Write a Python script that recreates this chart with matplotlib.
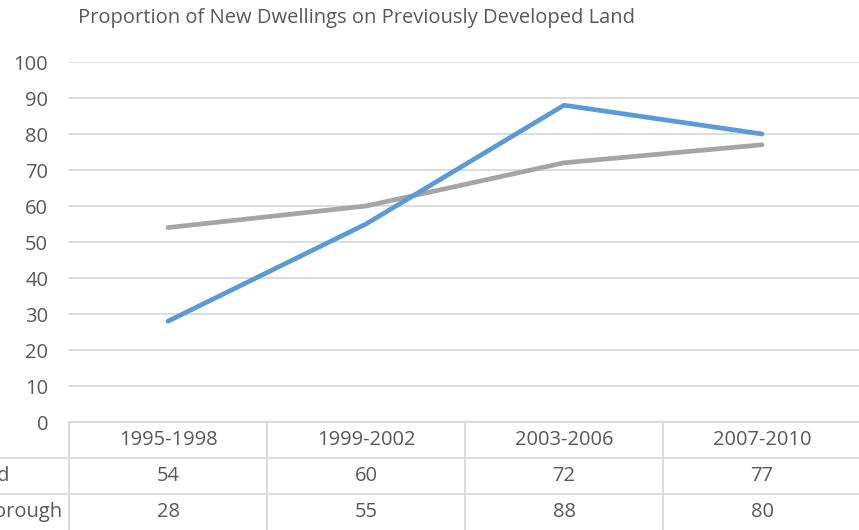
import matplotlib.pyplot as plt
from matplotlib.transforms import blended_transform_factory

periods = ["1995-1998", "1999-2002", "2003-2006", "2007-2010"]
england = [54, 60, 72, 77]
borough = [28, 55, 88, 80]
series_names = ["England", "Borough"]
yticks = list(range(0, 101, 10))

TEXT = "#595959"
GRID = "#D9D9D9"
BLUE = "#5B9BD5"
GREY = "#A5A5A5"
FS = 14.5

plt.rcParams["font.family"] = ["Open Sans", "DejaVu Sans"]

W, H = 859, 530
fig = plt.figure(figsize=(W / 100, H / 100), dpi=100)
# plot area in pixels: x 69..861, y 62..422 (from top)
ax = fig.add_axes([69 / W, 1 - 422 / H, 792 / W, 360 / H])

x = range(len(periods))
ax.plot(x, england, color=GREY, lw=3.4, solid_capstyle="round", zorder=3)
ax.plot(x, borough, color=BLUE, lw=3.4, solid_capstyle="round", zorder=4)

ax.set_xlim(-0.5, len(periods) - 0.5)
ax.set_ylim(0, 100)
ax.set_yticks(yticks)
ax.set_xticks([])
ax.tick_params(axis="y", length=0, pad=15, labelsize=FS, labelcolor=TEXT)
ax.grid(axis="y", color=GRID, lw=1.3)
for s in ax.spines.values():
    s.set_visible(False)

fig.text(357 / W, 1 - 18 / H, "Proportion of New Dwellings on Previously Developed Land",
         ha="center", va="center", fontsize=FS, color=TEXT)

# data table under the axis
tr = blended_transform_factory(ax.transData, ax.transAxes)
row_h = 36 / 360
xl, xr = -0.5, len(periods) - 0.5
ax.plot([xl, xr], [0, 0], color=GRID, lw=1.3, transform=tr, clip_on=False)
for k in (1, 2):
    ax.plot([-2, xr], [-k * row_h, -k * row_h], color=GRID, lw=1.3,
            transform=tr, clip_on=False)
for b in [i - 0.5 for i in range(len(periods) + 1)]:
    ax.plot([b, b], [0, -3 * row_h], color=GRID, lw=1.3, transform=tr, clip_on=False)

for i, p in enumerate(periods):
    ax.text(i, -0.5 * row_h, p, ha="center", va="center", fontsize=FS,
            color=TEXT, transform=tr)
for r, vals in enumerate([england, borough]):
    yc = -(1.5 + r) * row_h
    for i, v in enumerate(vals):
        ax.text(i, yc, str(v), ha="center", va="center", fontsize=FS,
                color=TEXT, transform=tr)

# row labels, right edge in figure pixels (the first column runs off the left edge)
label_right = [9, 62]
for r, name in enumerate(series_names):
    fig.text(label_right[r] / W, 1 - (476 + 36 * r) / H, name, ha="right",
             va="center", fontsize=FS, color=TEXT)

fig.savefig("out.png", dpi=100)
